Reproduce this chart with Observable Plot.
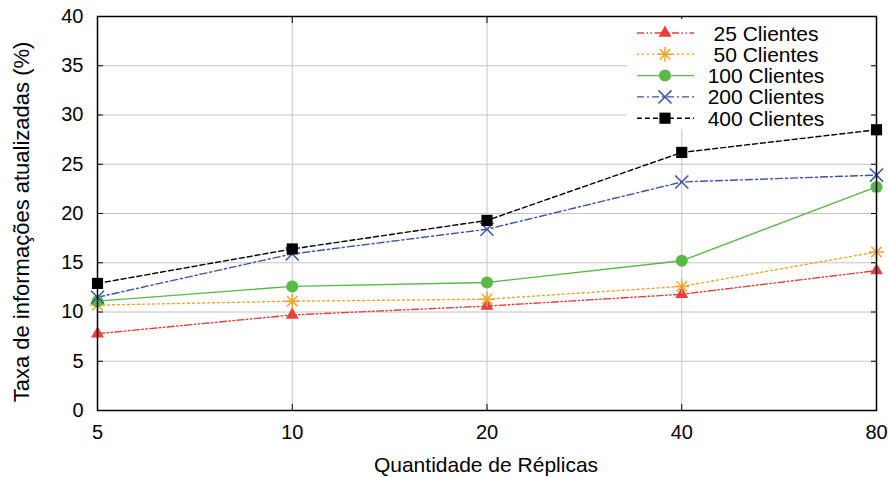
<!DOCTYPE html>
<html>
<head>
<meta charset="utf-8">
<script src="https://cdn.jsdelivr.net/npm/d3@7"></script>
<script src="https://cdn.jsdelivr.net/npm/@observablehq/plot@0.6"></script>
<style>
  html, body { margin: 0; padding: 0; background: #fff; }
  svg { font-family: "Liberation Sans", Arial, sans-serif; }
</style>
</head>
<body>
<div id="chart"></div>
<script>
const replicas = [5, 10, 20, 40, 80];
const seriesNames = ["25 Clientes", "50 Clientes", "100 Clientes", "200 Clientes", "400 Clientes"];
const c25  = [7.8, 9.7, 10.6, 11.8, 14.2];
const c50  = [10.7, 11.1, 11.3, 12.6, 16.1];
const c100 = [11.1, 12.6, 13.0, 15.2, 22.7];
const c200 = [11.5, 15.9, 18.4, 23.2, 23.9];
const c400 = [12.9, 16.4, 19.3, 26.2, 28.5];
const yTicks = [0, 5, 10, 15, 20, 25, 30, 35, 40];
const xLabel = "Quantidade de Réplicas";
const yLabel = "Taxa de informações atualizadas (%)";

const styles = [
  {color: "#e8403a", dash: "7,2.5,1.5,2.5,1.5,2.5", symbols: ["triangle"], r: 4.8, fill: true},
  {color: "#f5a232", dash: "2,3", symbols: ["plus", "times"], r: 4.8, fill: false},
  {color: "#58b848", dash: null, symbols: ["circle"], r: 6, fill: true},
  {color: "#3a54a4", dash: "7,3,2,3", symbols: ["times"], r: 6, fill: false},
  {color: "#000000", dash: "5,3", symbols: ["square"], r: 6.3, fill: true}
];
const valuesList = [c25, c50, c100, c200, c400];
const data = [];
valuesList.forEach((vals, i) => vals.forEach((v, j) => data.push({series: seriesNames[i], idx: i, x: replicas[j], y: v})));

const marks = [
  Plot.gridX(replicas.slice(1, -1), {stroke: "#c4c4c4", strokeOpacity: 1, strokeWidth: 1}),
  Plot.gridY(yTicks.slice(1, -1), {stroke: "#c4c4c4", strokeOpacity: 1, strokeWidth: 1}),
  Plot.axisX(replicas, {anchor: "bottom", tickSize: 0, tickPadding: 14, fontSize: 20, tickFormat: d => d, label: null, fill: "#000"}),
  Plot.axisY(yTicks, {anchor: "left", tickSize: 0, tickPadding: 14, fontSize: 20, label: null, fill: "#000"}),
  Plot.axisX(replicas, {anchor: "bottom", tickSize: -6, text: null, label: null}),
  Plot.axisX(replicas, {anchor: "top", tickSize: -6, text: null, label: null}),
  Plot.axisY(yTicks, {anchor: "left", tickSize: -6, text: null, label: null}),
  Plot.axisY(yTicks, {anchor: "right", tickSize: -6, text: null, label: null})
];
styles.forEach((s, i) => {
  const d = data.filter(p => p.idx === i);
  marks.push(Plot.line(d, {x: "x", y: "y", stroke: s.color, strokeWidth: 1.4, strokeDasharray: s.dash}));
});
styles.forEach((s, i) => {
  const d = data.filter(p => p.idx === i);
  s.symbols.forEach(sym => {
    marks.push(Plot.dot(d, {x: "x", y: "y", symbol: sym, r: s.r,
      fill: s.fill ? s.color : "none", stroke: s.fill ? "none" : s.color, strokeWidth: 1.5}));
  });
});
marks.push(Plot.frame({stroke: "#000", strokeWidth: 1.5}));

const plot = Plot.plot({
  width: 888,
  height: 477,
  marginLeft: 97,
  marginRight: 12,
  marginTop: 16,
  marginBottom: 67,
  style: {fontFamily: "Liberation Sans, Arial, sans-serif", background: "#fff"},
  x: {type: "log", base: 2, domain: [5, 80]},
  y: {domain: [0, 40]},
  marks
});
document.getElementById("chart").appendChild(plot);

// Titles and legend (layout in pixels, data from named arrays)
const svg = d3.select(plot);
svg.append("text").attr("x", 486).attr("y", 472).attr("text-anchor", "middle")
  .attr("font-size", 21).attr("fill", "#000").text(xLabel);
svg.append("text").attr("transform", "translate(29,222) rotate(-90)").attr("text-anchor", "middle")
  .attr("font-size", 22).attr("fill", "#000").text(yLabel);

const lg = svg.append("g");
lg.append("rect").attr("x", 627).attr("y", 19).attr("width", 244).attr("height", 110).attr("fill", "#fff");
const symMap = {triangle: d3.symbolTriangle, plus: d3.symbolPlus, times: d3.symbolTimes, circle: d3.symbolCircle, square: d3.symbolSquare};
seriesNames.forEach((name, i) => {
  const s = styles[i];
  const yy = 33 + i * 21.3;
  lg.append("line").attr("x1", 637).attr("x2", 694).attr("y1", yy).attr("y2", yy)
    .attr("stroke", s.color).attr("stroke-width", 1.4).attr("stroke-dasharray", s.dash);
  s.symbols.forEach(sym => {
    lg.append("path").attr("transform", `translate(665,${yy})`)
      .attr("d", d3.symbol(symMap[sym], Math.PI * s.r * s.r)())
      .attr("fill", s.fill ? s.color : "none").attr("stroke", s.fill ? "none" : s.color).attr("stroke-width", 1.5);
  });
  lg.append("text").attr("x", 766).attr("y", yy).attr("dy", "0.36em").attr("text-anchor", "middle")
    .attr("font-size", 21).attr("fill", "#000").text(name);
});
</script>
</body>
</html>
